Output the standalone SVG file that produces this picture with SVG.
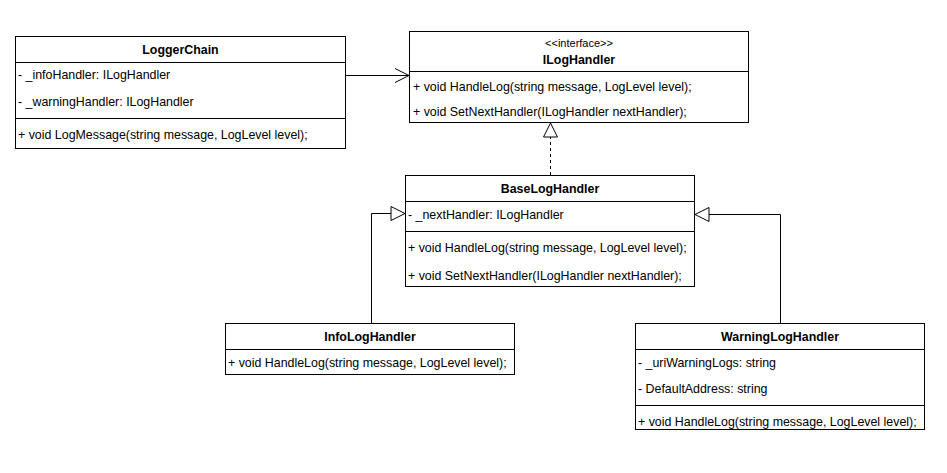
<svg xmlns="http://www.w3.org/2000/svg" width="947" height="473" viewBox="0 0 947 473">
<defs>
<style>
.box{fill:#fff;stroke:#000;stroke-width:1}
.ln{stroke:#000;stroke-width:1;fill:none}
text{font-family:"Liberation Sans",Arial,sans-serif;font-size:12.4px;fill:#000}
.t{font-weight:bold;text-anchor:middle}
.c{text-anchor:middle}
</style>
<marker id="open" markerWidth="16" markerHeight="16" refX="15" refY="8" orient="auto" markerUnits="userSpaceOnUse">
<path d="M1,1 L15,8 L1,15" fill="none" stroke="#000" stroke-width="1"/>
</marker>
<marker id="tri" markerWidth="16" markerHeight="16" refX="15" refY="8" orient="auto" markerUnits="userSpaceOnUse">
<path d="M1,1 L15,8 L1,15 Z" fill="#fff" stroke="#000" stroke-width="1"/>
</marker>
</defs>
<rect width="947" height="473" fill="#fff"/>
<g id="connectors">
<line class="ln" x1="345.5" y1="75.5" x2="409" y2="75.5" marker-end="url(#open)"/>
<line class="ln" x1="550.5" y1="175" x2="550.5" y2="123" stroke-dasharray="3,3" marker-end="url(#tri)"/>
<polyline class="ln" points="371.5,323 371.5,213.5 405,213.5" marker-end="url(#tri)"/>
<polyline class="ln" points="780.5,323 780.5,214.5 695,214.5" marker-end="url(#tri)"/>
</g>
<g id="LoggerChain">
<rect class="box" x="15.5" y="36.5" width="330" height="112"/>
<line class="ln" x1="15.5" y1="62.5" x2="345.5" y2="62.5"/>
<line class="ln" x1="15.5" y1="118.5" x2="345.5" y2="118.5"/>
<text class="t" x="180.5" y="54">LoggerChain</text>
<text x="18" y="79">- _infoHandler: ILogHandler</text>
<text x="18" y="106">- _warningHandler: ILogHandler</text>
<text x="18" y="139">+ void LogMessage(string message, LogLevel level);</text>
</g>
<g id="ILogHandler">
<rect class="box" x="409.5" y="31.5" width="339" height="91"/>
<line class="ln" x1="409.5" y1="71.5" x2="748.5" y2="71.5"/>
<text class="c" x="579" y="47" style="font-size:11px">&lt;&lt;interface&gt;&gt;</text>
<text class="t" x="579" y="64">ILogHandler</text>
<text x="413" y="91">+ void HandleLog(string message, LogLevel level);</text>
<text x="413" y="116">+ void SetNextHandler(ILogHandler nextHandler);</text>
</g>
<g id="BaseLogHandler">
<rect class="box" x="405.5" y="175.5" width="289" height="111"/>
<line class="ln" x1="405.5" y1="201.5" x2="694.5" y2="201.5"/>
<line class="ln" x1="405.5" y1="231.5" x2="694.5" y2="231.5"/>
<text class="t" x="550" y="193">BaseLogHandler</text>
<text x="408" y="219">- _nextHandler: ILogHandler</text>
<text x="408" y="252">+ void HandleLog(string message, LogLevel level);</text>
<text x="408" y="280">+ void SetNextHandler(ILogHandler nextHandler);</text>
</g>
<g id="InfoLogHandler">
<rect class="box" x="225.5" y="323.5" width="289" height="51"/>
<line class="ln" x1="225.5" y1="349.5" x2="514.5" y2="349.5"/>
<text class="t" x="370" y="341">InfoLogHandler</text>
<text x="228" y="367">+ void HandleLog(string message, LogLevel level);</text>
</g>
<g id="WarningLogHandler">
<rect class="box" x="635.5" y="323.5" width="289" height="106"/>
<line class="ln" x1="635.5" y1="349.5" x2="924.5" y2="349.5"/>
<line class="ln" x1="635.5" y1="405.5" x2="924.5" y2="405.5"/>
<text class="t" x="780" y="341">WarningLogHandler</text>
<text x="638" y="367">- _uriWarningLogs: string</text>
<text x="638" y="393">- DefaultAddress: string</text>
<text x="638" y="426">+ void HandleLog(string message, LogLevel level);</text>
</g>
</svg>
